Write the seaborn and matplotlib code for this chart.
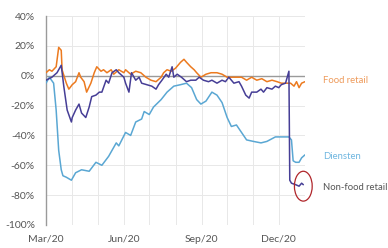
import pandas as pd
import numpy as np
import seaborn as sns
import matplotlib.pyplot as plt
import matplotlib.dates as mdates
from matplotlib.patches import Ellipse

# days since 1 Mar 2020 and index values (% change)
food_days = [0, 4, 7, 12, 15, 18, 19, 24, 27, 31, 35, 39, 41, 45, 48, 53, 57, 60, 65, 68,
             72, 77, 80, 86, 92, 94, 100, 106, 112, 118, 124, 130, 136, 139, 143, 148, 153,
             159, 163, 166, 171, 175, 178, 183, 189, 195, 202, 208, 214, 219, 225, 231, 237,
             243, 249, 255, 261, 267, 273, 278, 283, 289, 293, 296, 299, 302, 306]
food_vals = [2, 4, 3, 6, 19, 17, 4, -5, -9, -6, -4, 2, -1, -4, -11, -5, 2, 6, 3, 4,
             2, 4, 1, 4, 2, 4, 1, 3, 2, -1, -3, -4, -1, 2, 4, 3, 5,
             9, 11, 9, 6, 4, 2, -1, 1, 2, 2, 1, -1, -1, -1, -1, -3,
             -1, -3, -2, -4, -3, -4, -5, -5, -5, -7, -4, -8, -5, -4]

diensten_days = [0, 4, 9, 12, 15, 18, 20, 24, 27, 30, 35, 42, 51, 59, 66, 74, 83, 86, 94,
                 100, 106, 113, 116, 122, 127, 136, 143, 151, 159, 166, 172, 178, 183, 189,
                 196, 202, 208, 214, 219, 225, 231, 237, 245, 254, 261, 271, 281, 287, 290,
                 292, 295, 299, 302, 306]
diensten_vals = [-5, -1, -5, -23, -50, -63, -67, -68, -69, -70, -65, -63, -64, -58, -60, -54,
                 -45, -47, -38, -40, -31, -29, -24, -26, -21, -16, -11, -7, -6, -5, -8, -16,
                 -19, -17, -11, -13, -18, -28, -34, -33, -38, -43, -44, -45, -44, -41, -41,
                 -41, -43, -57, -58, -58, -55, -53]

nonfood_days = [0, 7, 13, 18, 21, 25, 30, 31, 35, 39, 42, 47, 51, 54, 59, 63, 66, 71, 74, 78,
                83, 86, 92, 94, 98, 101, 106, 110, 113, 119, 125, 130, 133, 137, 142, 145,
                149, 151, 155, 160, 166, 171, 177, 181, 186, 192, 196, 202, 208, 212, 216,
                222, 228, 231, 236, 240, 243, 249, 254, 257, 261, 267, 271, 275, 278, 283,
                284, 287, 288, 290, 295, 299, 302, 304]
nonfood_vals = [-3, -1, 2, 7, -7, -23, -31, -28, -23, -19, -25, -28, -21, -14, -13, -11, -11,
                -3, -5, 2, 4, 2, -1, -5, -11, 2, -3, -1, -5, -6, -7, -9, -6, -3, 1, -1, 6,
                -1, 1, -1, -4, -3, -3, -1, -3, -4, -3, -5, -3, -4, -1, -5, -4, -7, -13, -15,
                -11, -11, -9, -11, -8, -9, -7, -8, -6, -5, -3, 3, -70, -72, -73, -74, -72, -73]

series_names = ["Food retail", "Diensten", "Non-food retail"]
line_colors = ["#EC7A1F", "#5AA7D3", "#463E96"]
label_colors = ["#EE9A5A", "#6FB6E0", "#555555"]

start = pd.Timestamp("2020-03-01")


def to_frame(days, vals):
    return pd.DataFrame({"date": start + pd.to_timedelta(days, unit="D"), "value": vals})


frames = [to_frame(food_days, food_vals),
          to_frame(diensten_days, diensten_vals),
          to_frame(nonfood_days, nonfood_vals)]

sns.set_style("white")
plt.rcParams["font.family"] = ["Lato", "DejaVu Sans"]

fig = plt.figure(figsize=(3.88, 2.48), dpi=100)
ax = fig.add_axes([46 / 388, 1 - 225 / 248, (305 - 46) / 388, (225 - 16) / 248])

ax.axhline(0, color="#9a9a9a", lw=1.0, zorder=1)
# draw order: diensten, food, non-food on top
for i in [1, 0, 2]:
    sns.lineplot(data=frames[i], x="date", y="value", color=line_colors[i],
                 lw=1.1, ax=ax, zorder=3)

ax.set_ylim(-100, 40)
ax.set_xlim(start, pd.Timestamp("2021-01-01"))
ax.set_yticks(np.arange(-100, 41, 20))
ax.set_yticklabels([f"{v}%" for v in range(-100, 41, 20)])
ax.xaxis.set_major_locator(mdates.MonthLocator(bymonth=[3, 6, 9, 12]))
ax.xaxis.set_major_formatter(mdates.DateFormatter("%b/%y"))
ax.xaxis.set_minor_locator(mdates.MonthLocator())
ax.grid(True, which="both", color="#e8e8e8", lw=0.7, zorder=0)
ax.set_axisbelow(True)
ax.set_xlabel("")
ax.set_ylabel("")
ax.tick_params(axis="both", which="both", length=0, labelsize=7.5, labelcolor="#555555")
ax.tick_params(axis="y", pad=8)
ax.tick_params(axis="x", pad=7)
for s in ["top", "right", "bottom"]:
    ax.spines[s].set_visible(False)
ax.spines["left"].set_color("#9a9a9a")
ax.spines["left"].set_linewidth(1.0)

# series labels at right
label_y = [-3, -54, -75]
for name, yv, c in zip(series_names, label_y, label_colors):
    ax.text(1.07, yv, name, transform=ax.get_yaxis_transform(), color=c,
            fontsize=6.8, va="center", ha="left", clip_on=False)

ell = Ellipse((start + pd.Timedelta(days=304), -74), width=21, height=20,
              fill=False, ec="#B0262B", lw=0.9, clip_on=False, zorder=5)
ax.add_patch(ell)

fig.savefig("out.png", dpi=100)
